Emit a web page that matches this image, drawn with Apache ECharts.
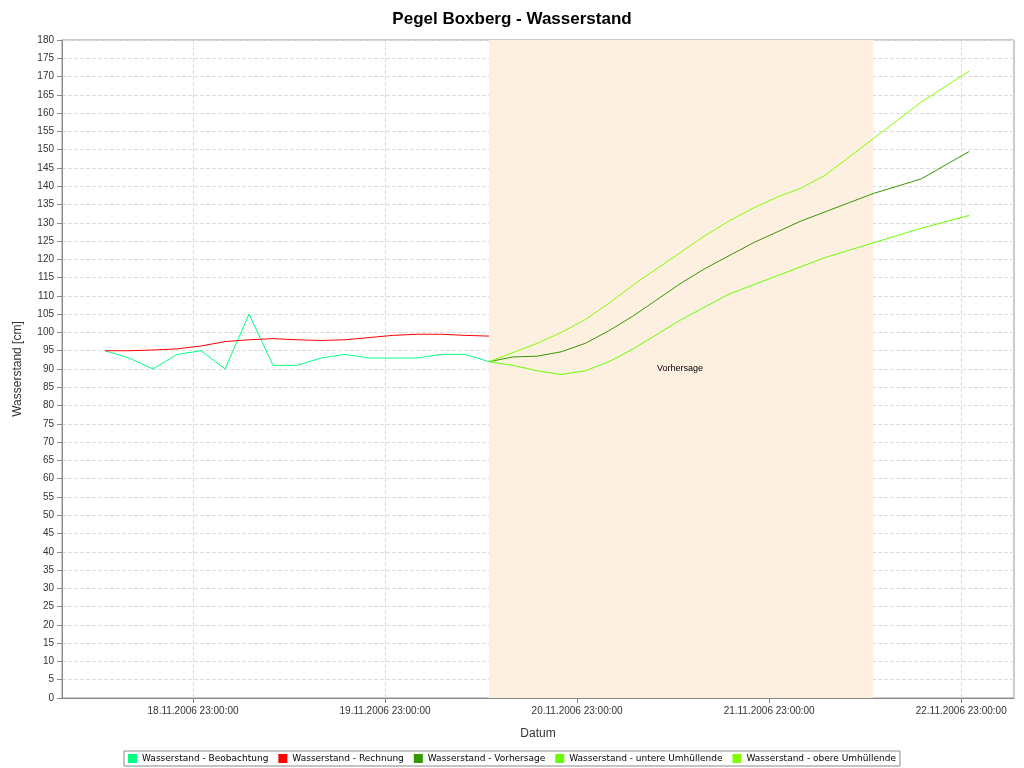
<!DOCTYPE html>
<html><head><meta charset="utf-8">
<script src="https://cdn.jsdelivr.net/npm/echarts@6/dist/echarts.min.js"></script>
<style>html,body{margin:0;padding:0;background:#fff}#c{width:1024px;height:768px}</style>
</head><body><div id="c"></div>
<script>
// x values: hours since 18.11.2006 00:00
const obsHours = [12,15,18,21,24,27,30,33,36,39,42,45,48,51,54,57,60];
const beobachtung = [95,93,90,94,95,90,105,91,91,93,94,93,93,93,94,94,92];
const rechnung = [95,95,95.2,95.5,96.3,97.5,98,98.3,98,97.8,98,98.6,99.2,99.5,99.5,99.2,99];
const fcHours = [60,63,66,69,72,75,78,81,84,87,90,93,96,99,102,105,108,111,114,120];
const vorhersage = [92,93.3,93.5,94.7,97,100.5,104.5,109,113.5,117.5,121,124.5,127.5,130.5,133,135.5,138,140,142,149.5];
const untere = [92,91,89.5,88.5,89.5,92,95.5,99.5,103.5,107,110.5,113,115.5,118,120.5,122.5,124.5,126.5,128.5,132];
const obere = [92,94.5,97,100,103.5,108,113,117.5,122,126.5,130.5,134,137,139.5,143,148,153,158,163,171.5];
const tickHours = [23,47,71,95,119];
const tickLabels = ['18.11.2006 23:00:00','19.11.2006 23:00:00','20.11.2006 23:00:00','21.11.2006 23:00:00','22.11.2006 23:00:00'];
const forecastStart = 60, forecastEnd = 108;

const zip = (xs, ys) => xs.map((x, i) => [x, ys[i]]);
const chart = echarts.init(document.getElementById('c'));
const ln = (name, xs, ys, color, extra) => Object.assign({
  name, type:'line', data: zip(xs, ys), symbol:'none', lineStyle:{width:1,color}, itemStyle:{color}, animation:false
}, extra||{});
chart.setOption({
  animation:false,
  title:{text:'Pegel Boxberg - Wasserstand',left:'center',top:6,textStyle:{fontFamily:'Liberation Sans',fontSize:17,fontWeight:'bold',color:'#000'}},
  grid:{left:62,right:10,top:40,bottom:70,show:true,borderColor:'#999',borderWidth:1},
  xAxis:{type:'value',min:6.625,max:125.6,name:'Datum',nameLocation:'middle',nameGap:30,
    nameTextStyle:{fontFamily:'Liberation Sans',fontSize:12,color:'#333'},
    axisLine:{onZero:false,lineStyle:{color:'#888'}},
    axisTick:{customValues:tickHours,lineStyle:{color:'#888'}},
    axisLabel:{customValues:tickHours,formatter:v=>tickLabels[tickHours.indexOf(Math.round(v))]||'',fontFamily:'Liberation Sans',fontSize:10,color:'#333'},
    splitLine:{show:true,lineStyle:{type:'dashed',color:'#ddd'}}},
  yAxis:{type:'value',min:0,max:180,interval:5,name:'Wasserstand [cm]',nameLocation:'middle',nameGap:38,
    nameTextStyle:{fontFamily:'Liberation Sans',fontSize:12,color:'#333'},
    axisLine:{show:true,lineStyle:{color:'#888'}},axisTick:{show:true,lineStyle:{color:'#888'}},
    axisLabel:{fontFamily:'Liberation Sans',fontSize:10,color:'#333'},
    splitLine:{lineStyle:{type:'dashed',color:'#ddd'}}},
  legend:{bottom:2,left:'center',itemWidth:9,itemHeight:9,itemGap:10,icon:'rect',
    borderColor:'#888',borderWidth:1,padding:[3,4],borderRadius:0,
    textStyle:{fontFamily:'DejaVu Sans',fontSize:9,color:'#000'},
    data:['Wasserstand - Beobachtung','Wasserstand - Rechnung','Wasserstand - Vorhersage','Wasserstand - untere Umhüllende','Wasserstand - obere Umhüllende']},
  series:[
    ln('Wasserstand - Beobachtung',obsHours,beobachtung,'#00ff80',{
      markArea:{silent:true,itemStyle:{color:'#fdf0e0'},
        label:{show:true,position:[168,324],color:'#000',fontSize:9,fontFamily:'Liberation Sans'},
        data:[[{xAxis:forecastStart,name:'Vorhersage'},{xAxis:forecastEnd}]]}}),
    ln('Wasserstand - Rechnung',obsHours,rechnung,'#ff0000'),
    ln('Wasserstand - Vorhersage',fcHours,vorhersage,'#339900'),
    ln('Wasserstand - untere Umhüllende',fcHours,untere,'#66ff00'),
    ln('Wasserstand - obere Umhüllende',fcHours,obere,'#80ff00')
  ]
});
</script></body></html>
